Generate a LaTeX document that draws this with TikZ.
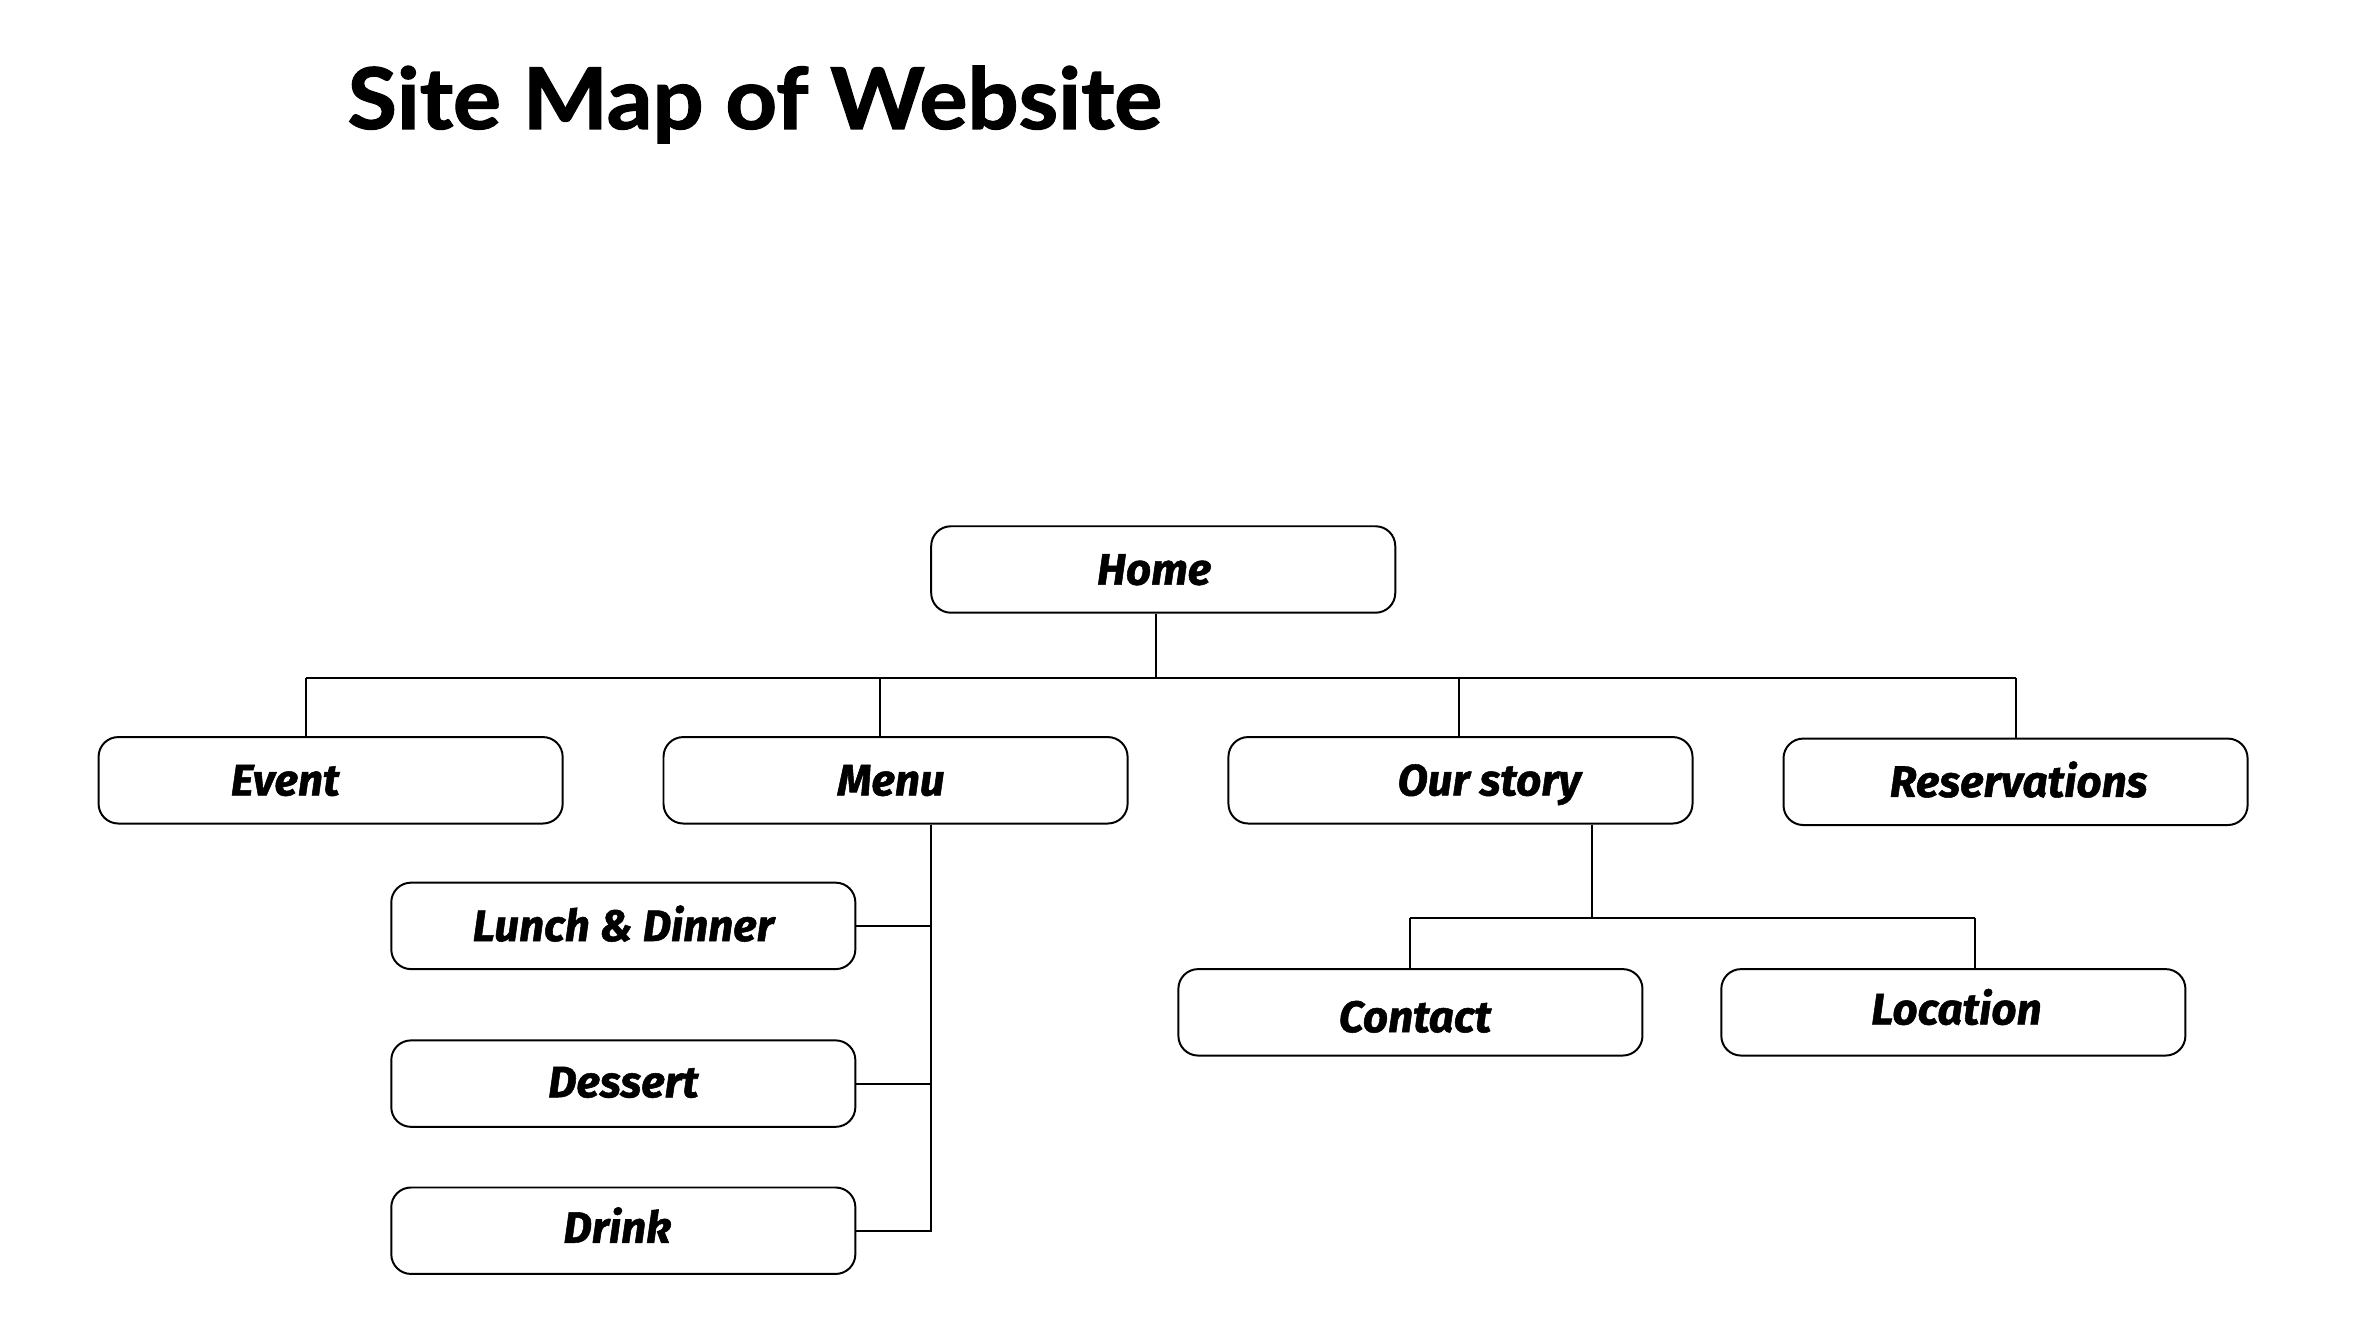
\documentclass[tikz,border=0pt]{standalone}
\usepackage{fontspec}
\newfontfamily\titlefont{Lato}[FakeBold=1.5, FakeStretch=1.06]
\newfontfamily\boxfont{Fira Sans}[FakeBold=1.2]
\begin{document}
\begin{tikzpicture}[x=1pt,y=-1pt,
  page/.style={draw=black, line width=1.3pt, rounded corners=13pt,
    minimum width=306pt, minimum height=57pt, inner sep=0pt, fill=white},
  pagetext/.style={font=\boxfont\bfseries\itshape\fontsize{29}{32}\selectfont,
    inner sep=0pt, anchor=base},
  link/.style={draw=black, line width=1.3pt}]
\useasboundingbox (0,0) rectangle (1568,881);
\fill[white] (0,0) rectangle (1568,881);

% title
\node[anchor=base west, inner sep=0pt, font=\titlefont\bfseries\fontsize{56}{60}\selectfont] (title) at (229,85) {Site Map of Website};

% boxes
\node[page] (home) at (767,375.5) {};
\node[page] (event) at (218,514.5) {};
\node[page] (menu) at (590.5,514.5) {};
\node[page] (story) at (963,514.5) {};
\node[page] (resv) at (1329,515.5) {};
\node[page] (lunch) at (411,610.5) {};
\node[page] (dessert) at (411,714.5) {};
\node[page] (drink) at (411,811.5) {};
\node[page] (contact) at (930,667.5) {};
\node[page] (location) at (1288,667.5) {};

% labels, placed on their baselines
\node[pagetext] (thome) at ([xshift=-6,yshift=-10]home.center) {Home};
\node[pagetext] (tevent) at ([xshift=-30,yshift=-10]event.center) {Event};
\node[pagetext] (tmenu) at ([xshift=-3,yshift=-10]menu.center) {Menu};
\node[pagetext] (tstory) at ([xshift=19,yshift=-10]story.center) {Our story};
\node[pagetext] (tresv) at ([xshift=2,yshift=-10]resv.center) {Reservations};
\node[pagetext] (tlunch) at ([yshift=-10]lunch.center) {Lunch \& Dinner};
\node[pagetext] (tdessert) at ([yshift=-9]dessert.center) {Dessert};
\node[pagetext] (tdrink) at ([xshift=-4,yshift=-8]drink.center) {Drink};
\node[pagetext] (tcontact) at ([xshift=3,yshift=-13]contact.center) {Contact};
\node[pagetext] (tlocation) at ([xshift=2,yshift=-8]location.center) {Location};

% main bus under Home
\coordinate (busL) at (202,447);
\coordinate (busR) at (1329,447);
\coordinate (hdrop) at (762,447);
\coordinate (mdrop) at (580,447);
\coordinate (sdrop) at (962,447);
\draw[link] (busL) -- (busR);
\draw[link] (home.south -| hdrop) -- (hdrop);
\draw[link] (busL) -- (event.north -| busL);
\draw[link] (mdrop) -- (menu.north -| mdrop);
\draw[link] (sdrop) -- (story.north -| sdrop);
\draw[link] (busR) -- (resv.north -| busR);

% Menu sub-pages
\coordinate (mspine) at (614,811.5);
\draw[link] (menu.south -| mspine) -- (mspine) -- (drink.east);
\draw[link] (lunch.east) -- (lunch.east -| mspine);
\draw[link] (dessert.east) -- (dessert.east -| mspine);

% Our story sub-pages
\coordinate (sbusL) at (930,605);
\coordinate (sbusR) at (1302,605);
\coordinate (sjoin) at (1050,605);
\draw[link] (story.south -| sjoin) -- (sjoin);
\draw[link] (sbusL) -- (sbusR);
\draw[link] (sbusL) -- (contact.north -| sbusL);
\draw[link] (sbusR) -- (location.north -| sbusR);
\end{tikzpicture}
\end{document}
